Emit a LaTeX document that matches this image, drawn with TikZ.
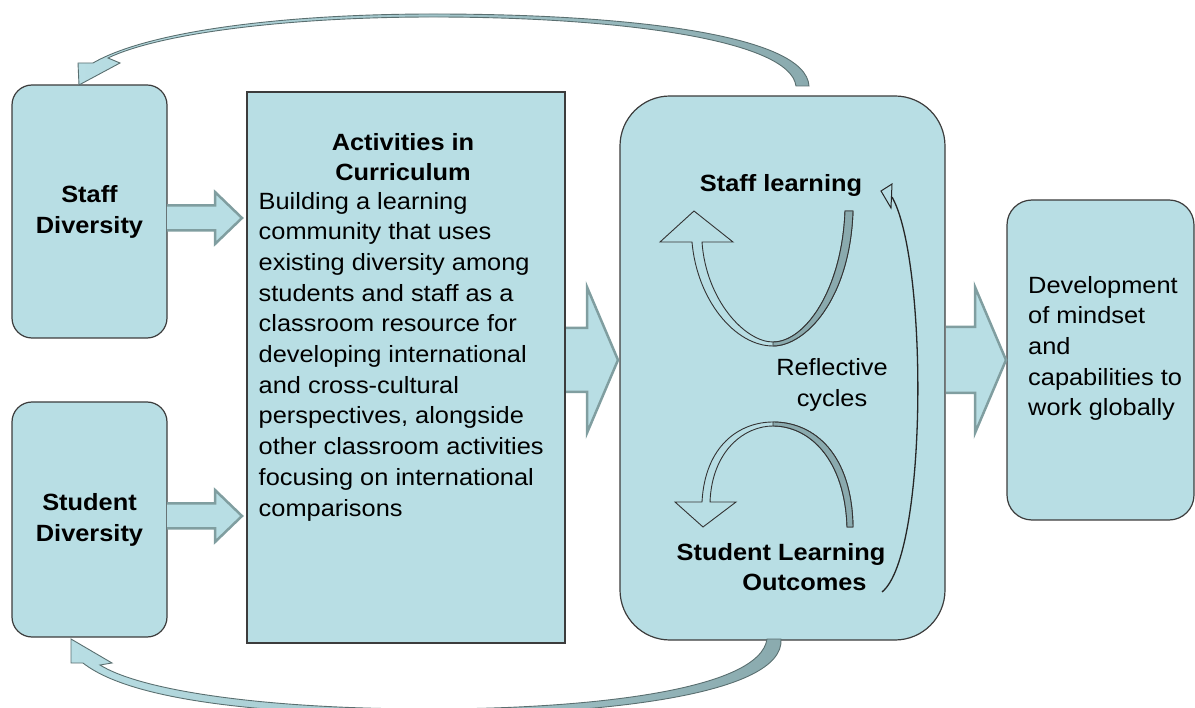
\documentclass[tikz,border=0pt]{standalone}
\usepackage{fontspec}
\setmainfont{Liberation Sans}[FakeStretch=1.08]
\usetikzlibrary{arrows.meta}
\definecolor{boxfill}{RGB}{184,222,228}
\definecolor{boxline}{RGB}{60,60,60}
\definecolor{arrowline}{RGB}{128,158,160}
\definecolor{bandgrey}{RGB}{138,170,174}
\tikzset{
  txt/.style={font=\fontsize{23.5}{30.7}\selectfont, inner sep=0pt, align=left},
  sidebox/.style={draw=boxline, fill=boxfill, line width=1.2pt, rounded corners=20pt,
    minimum width=155pt, inner sep=0pt, align=center, font=\fontsize{23.5}{31}\selectfont\bfseries},
  plainbox/.style={draw=boxline, fill=boxfill, line width=1.2pt, inner sep=0pt},
  fatarrow/.style={fill=boxfill, draw=arrowline, line width=2.5pt, line join=miter},
  arcarrow/.style={draw=arrowline!70!black, line width=0.9pt, left color=boxfill, right color=bandgrey},
  ribbon/.style={draw=black!80, line width=0.9pt, fill=boxfill},
  band/.style={draw=black!80, line width=0.9pt, fill=bandgrey}
}
% block arrow: shaft start, head base, tip, centre y, shaft half, head half
\newcommand\blockarrow[6]{\draw[fatarrow] (#1,#4-#5) -- (#2,#4-#5) -- (#2,#4-#6) -- (#3,#4)
  -- (#2,#4+#6) -- (#2,#4+#5) -- (#1,#4+#5);}
\begin{document}
\begin{tikzpicture}[x=1pt,y=-1pt]
\useasboundingbox (0,0) rectangle (1195,708);
\clip (0,0) rectangle (1195,708);

% boxes
\node[sidebox, minimum height=253pt] (staff) at (89.5,211.5) {Staff\\Diversity};
\node[sidebox, minimum height=235pt] (student) at (89.5,519.5) {Student\\Diversity};
\node[plainbox, minimum width=318pt, minimum height=551pt] (activities) at (406,367.5) {};
\node[plainbox, rounded corners=50pt, minimum width=325pt, minimum height=544pt] (cycle) at (782.5,368) {};
\node[plainbox, rounded corners=25pt, minimum width=187pt, minimum height=320pt] (outcome) at (1100.5,360) {};

% block arrows
\blockarrow{167}{215}{242}{218}{12.5}{26}
\blockarrow{167}{215}{242}{516}{12.5}{26}
\blockarrow{566}{587}{618}{360}{32}{73}
\blockarrow{946}{975}{1006}{360}{33}{73}

% feedback arcs
\draw[arcarrow] (796,86) .. controls (790,40) and (620,17) .. (433,17)
  .. controls (290,17) and (160,33) .. (108,58) -- (120,63) -- (79,85) -- (78,63) -- (93,63)
  .. controls (150,30) and (290,14) .. (433,14) .. controls (630,14) and (806,35) .. (809,86) -- cycle;
\draw[arcarrow] (767,639) .. controls (760,690) and (590,709) .. (430,709)
  .. controls (260,709) and (140,690) .. (100,665) -- (112,663) -- (71,639) -- (71,663) -- (83,663)
  .. controls (130,700) and (260,715) .. (430,715) .. controls (600,715) and (785,695) .. (781,639) -- cycle;

% reflective cycle arrows
\draw[ribbon] (702,242) -- (733,242) -- (694,211) -- (660,242) -- (692,242)
  .. controls (697,300) and (735,346) .. (773,346) .. controls (805,346) and (850,300) .. (853,211)
  -- (845,211) .. controls (842,290) and (805,342) .. (773,342) .. controls (745,342) and (706,300) .. (702,242) -- cycle;
\draw[band] (773,346) .. controls (805,346) and (850,300) .. (853,211)
  -- (845,211) .. controls (842,290) and (805,342) .. (773,342) -- cycle;
\draw[ribbon] (702,502) -- (675,502) -- (703,527) -- (736,502) -- (710,502)
  .. controls (712,450) and (745,426) .. (773,426) .. controls (810,426) and (845,460) .. (847,527)
  -- (853,527) .. controls (852,455) and (815,422) .. (773,422) .. controls (740,422) and (705,445) .. (702,502) -- cycle;
\draw[band] (773,426) .. controls (810,426) and (845,460) .. (847,527)
  -- (853,527) .. controls (852,455) and (815,422) .. (773,422) -- cycle;
\draw[line width=1.3pt, black!85] (882,592) .. controls (928,555) and (928,260) .. (892,197);
\draw[line width=1pt, black!85, fill=boxfill] (891,208) -- (881,191) -- (892,184) -- cycle;

% texts
\node[txt, font=\fontsize{23.5}{30}\selectfont\bfseries, align=center] (acttitle) at (403,157) {Activities in\\Curriculum};
\node[txt, anchor=west] (actbody) at (258.5,356.5) {Building a learning\\community  that uses\\existing diversity among\\students and staff as a\\classroom resource for\\developing international\\and cross-cultural\\perspectives, alongside\\other classroom activities\\focusing on international\\comparisons};
\node[txt, font=\fontsize{23.5}{30}\selectfont\bfseries] (stafflearn) at (781,185) {Staff learning};
\node[txt, align=center] (reflect) at (832,385) {Reflective\\cycles};
\node[txt, font=\fontsize{23.5}{30}\selectfont\bfseries, align=center] (studlearn) at (781,567) {Student Learning\\\hspace*{47pt}Outcomes};
\node[txt, anchor=west] (outtext) at (1028,348.5) {Development\\of mindset\\and\\capabilities to\\work globally};
\end{tikzpicture}
\end{document}
